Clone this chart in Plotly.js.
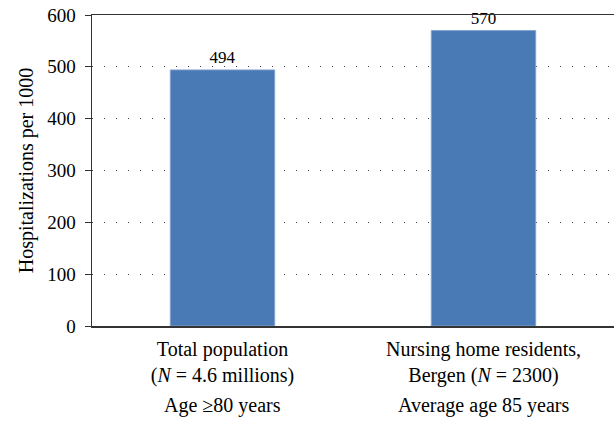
<!DOCTYPE html>
<html><head><meta charset="utf-8">
<script src="https://cdn.plot.ly/plotly-3.0.1.min.js"></script>
<style>html,body{margin:0;padding:0;background:#fff}</style>
</head><body>
<div id="chart" style="width:614px;height:431px"></div>
<script>
const categories = ["Total population", "Nursing home residents"];
const tickLabels = ["Total population<br>(<i>N</i> = 4.6 millions)", "Nursing home residents,<br>Bergen (<i>N</i> = 2300)"];
const ageLabels = ["Age \u226580 years", "Average age 85 years"];
const values = [494, 570];
const yTicks = [0, 100, 200, 300, 400, 500, 600];

const font = "'Liberation Serif', 'DejaVu Serif', serif";

const trace = {
  type: 'bar',
  x: categories,
  y: values,
  width: 0.4,
  marker: {color: '#4a7ab5', line: {color: '#7fa3cf', width: 1}},
  text: values.map(String),
  textposition: 'outside',
  cliponaxis: false,
  textfont: {family: font, size: 17, color: '#000'},
  hoverinfo: 'none'
};

const layout = {
  width: 614, height: 431,
  margin: {l: 92, r: 0, t: 15, b: 105},
  paper_bgcolor: '#fff', plot_bgcolor: '#fff',
  showlegend: false,
  font: {family: font, size: 20, color: '#000'},
  xaxis: {
    type: 'category',
    range: [-0.5, 1.5],
    tickvals: categories,
    ticktext: tickLabels,
    ticklabelstandoff: 4,
    showline: true, mirror: true, linecolor: '#333', linewidth: 1.5,
    ticks: '', showgrid: false, zeroline: false,
    tickfont: {family: font, size: 20, color: '#000'},
    fixedrange: true
  },
  yaxis: {
    range: [0, 600],
    tickvals: yTicks,
    ticks: 'outside', ticklen: 6, tickwidth: 1, tickcolor: '#333',
    ticklabelstandoff: 5,
    showline: true, linecolor: '#333', linewidth: 1.5,
    showgrid: true, gridcolor: '#444', gridwidth: 1, griddash: '1px,11px',
    zeroline: false,
    tickfont: {family: font, size: 19, color: '#000'},
    title: {text: 'Hospitalizations per 1000', font: {family: font, size: 20, color: '#000'}, standoff: 8},
    fixedrange: true
  },
  annotations: categories.map((c, i) => ({
    x: c, xref: 'x', y: -0.257, yref: 'paper', yanchor: 'middle',
    text: ageLabels[i], showarrow: false,
    font: {family: font, size: 20, color: '#000'}
  }))
};

Plotly.newPlot('chart', [trace], layout, {staticPlot: true, displayModeBar: false});
</script>
</body></html>
